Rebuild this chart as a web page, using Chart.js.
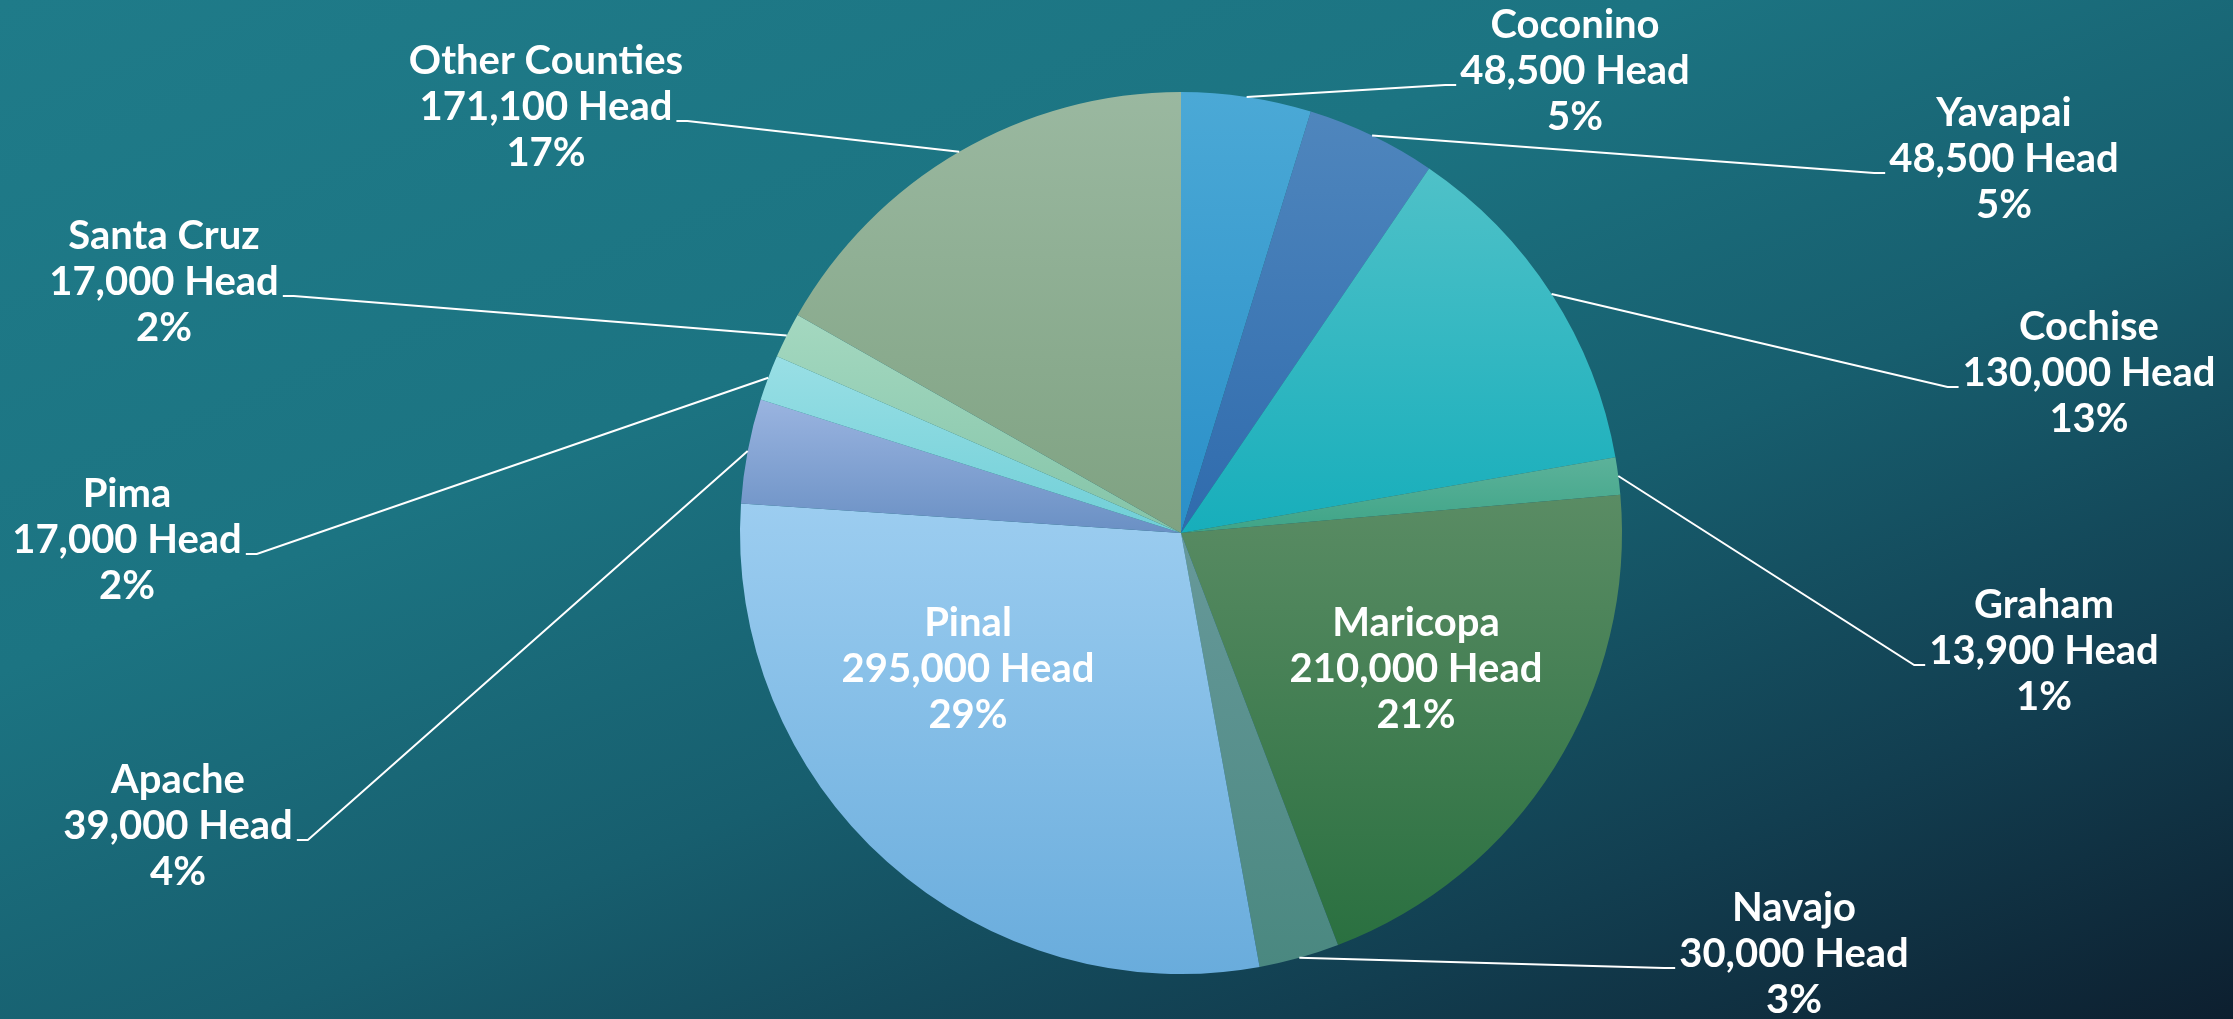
<!DOCTYPE html>
<html>
<head>
<meta charset="utf-8">
<script src="https://cdn.jsdelivr.net/npm/chart.js@4.4.1/dist/chart.umd.min.js"></script>
<style>
  html, body { margin: 0; padding: 0; }
  body {
    width: 2233px;
    height: 1019px;
    overflow: hidden;
    background: linear-gradient(158deg, #1f7b89 0%, #1c7482 35%, #175e6e 58%, #123e50 80%, #0d1f2f 100%);
  }
  #chart { display: block; }
</style>
</head>
<body>
<canvas id="chart" width="2233" height="1019"></canvas>
<script>
// cattle head by county, clockwise from 12 o'clock
const counties = ['Coconino', 'Yavapai', 'Cochise', 'Graham', 'Maricopa', 'Navajo', 'Pinal', 'Apache', 'Pima', 'Santa Cruz', 'Other Counties']
const head = [48500, 48500, 130000, 13900, 210000, 30000, 295000, 39000, 17000, 17000, 171100]

// slice gradients (top -> bottom of each slice)
const topColors = ['#4ba9d6', '#4f86bd', '#4fc1c8', '#5cb29a', '#5a8c64', '#67999a', '#9ccdf0', '#9ab4e0', '#99dfe5', '#a4d8c0', '#9ab8a0']
const bottomColors = ['#2a8fc8', '#2f6bad', '#17aebb', '#3ea487', '#2a7040', '#4a8880', '#69acdc', '#6a90c4', '#70cfd7', '#84c4a8', '#7fa282']

// label layout: centre x, centre y of the middle line, and whether a leader line is drawn
const labelPos = [
  [1575, 71], [2004, 159], [2089, 373], [2044, 651], [1416, 669], [1794, 954],
  [968, 669], [178, 826], [127, 540], [164, 282], [546, 107]
]
const labelInside = [false, false, false, false, true, false, true, false, false, false, false]

const total = head.reduce((a, b) => a + b, 0)
const fontSpec = 'bold 40px Lato'
const lineGap = 46

function sliceBox (chart, i) {
  const area = chart.chartArea
  const cx = (area.left + area.right) / 2
  const cy = (area.top + area.bottom) / 2
  const r = Math.min(area.right - area.left, area.bottom - area.top) / 2
  let before = 0
  for (let k = 0; k < i; k++) before += head[k]
  const a0 = -Math.PI / 2 + before / total * Math.PI * 2
  const a1 = a0 + head[i] / total * Math.PI * 2
  const ys = [cy, cy + r * Math.sin(a0), cy + r * Math.sin(a1)]
  // does the slice pass through the very top or bottom?
  ;[-Math.PI / 2, Math.PI / 2, Math.PI * 1.5].forEach((a) => {
    if (a > a0 && a < a1) ys.push(cy + r * Math.sin(a))
  })
  return { minY: Math.min(...ys), maxY: Math.max(...ys) }
}

function sliceFill (ctx) {
  const chart = ctx.chart
  const i = ctx.dataIndex
  if (!chart.chartArea) return topColors[i]
  const box = sliceBox(chart, i)
  const g = chart.ctx.createLinearGradient(0, box.minY, 0, box.maxY)
  g.addColorStop(0, topColors[i])
  g.addColorStop(1, bottomColors[i])
  return g
}

const labelPlugin = {
  id: 'countyLabels',
  afterDatasetsDraw (chart) {
    const ctx = chart.ctx
    const arcs = chart.getDatasetMeta(0).data
    ctx.save()
    ctx.font = fontSpec
    ctx.fillStyle = '#ffffff'
    ctx.textAlign = 'center'
    ctx.textBaseline = 'middle'
    arcs.forEach((arc, i) => {
      const [lx, ly] = labelPos[i]
      const lines = [
        counties[i],
        head[i].toLocaleString('en-US') + ' Head',
        Math.round(head[i] / total * 100) + '%'
      ]
      lines.forEach((t, n) => ctx.fillText(t, lx, ly + (n - 1) * lineGap))

      if (labelInside[i]) return
      const mid = (arc.startAngle + arc.endAngle) / 2
      const sx = arc.x + Math.cos(mid) * arc.outerRadius
      const sy = arc.y + Math.sin(mid) * arc.outerRadius
      const half = ctx.measureText(lines[1]).width / 2
      const onRight = lx > arc.x
      const edge = onRight ? lx - half - 4 : lx + half + 4
      const tail = onRight ? edge - 11 : edge + 11
      const by = ly + 14
      ctx.beginPath()
      ctx.moveTo(sx, sy)
      ctx.lineTo(tail, by)
      ctx.lineTo(edge, by)
      ctx.strokeStyle = '#ffffff'
      ctx.lineWidth = 2
      ctx.stroke()
    })
    ctx.restore()
  }
}

new Chart(document.getElementById('chart'), {
  type: 'pie',
  data: {
    labels: counties,
    datasets: [{
      data: head,
      backgroundColor: sliceFill,
      borderWidth: 0
    }]
  },
  options: {
    responsive: false,
    animation: false,
    devicePixelRatio: 1,
    layout: { padding: { left: 200, right: 71, top: 92, bottom: 45 } },
    plugins: {
      legend: { display: false },
      tooltip: { enabled: false }
    }
  },
  plugins: [labelPlugin]
})
</script>
</body>
</html>
